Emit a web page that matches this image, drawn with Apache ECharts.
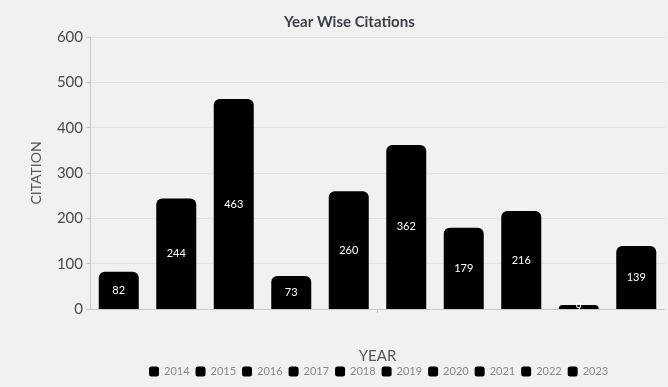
<!DOCTYPE html>
<html>
<head>
<meta charset="utf-8">
<script src="https://cdn.jsdelivr.net/npm/echarts@6/dist/echarts.min.js"></script>
<style>
  html, body { margin: 0; padding: 0; background: #f1f1f1; }
  #chart { width: 668px; height: 387px; }
</style>
</head>
<body>
<div id="chart"></div>
<script>
// 年份和引用次数
var years = ['2014', '2015', '2016', '2017', '2018', '2019', '2020', '2021', '2022', '2023'];
var citations = [82, 244, 463, 73, 260, 362, 179, 216, 9, 139];
var yTicks = [0, 100, 200, 300, 400, 500, 600];

var chart = echarts.init(document.getElementById('chart'));

var series = years.map(function (y, i) {
    return {
        name: y,
        type: 'bar',
        data: [citations[i]],
        barWidth: 40,
        barGap: '43.75%',
        barCategoryGap: '3%',
        itemStyle: { color: '#000', borderRadius: [6, 6, 0, 0] },
        label: {
            show: true,
            position: 'inside',
            color: '#fff',
            fontSize: 11,
            fontFamily: 'Lato'
        }
    };
});

chart.setOption({
    backgroundColor: '#f1f1f1',
    textStyle: { fontFamily: 'Lato' },
    title: {
        text: 'Year Wise Citations',
        left: 279,
        top: 10,
        textStyle: { fontSize: 15, fontWeight: 'bold', color: '#3a3f4a', fontFamily: 'Lato' }
    },
    legend: {
        data: years,
        left: 144,
        top: 361,
        icon: 'roundRect',
        itemWidth: 10,
        itemHeight: 10,
        itemGap: 6,
        textStyle: { color: '#888', fontSize: 11, fontFamily: 'Lato' }
    },
    grid: { left: 90, right: 3, top: 37, bottom: 78 },
    xAxis: {
        type: 'category',
        data: [''],
        name: 'YEAR',
        nameLocation: 'middle',
        nameGap: 40,
        nameTextStyle: { fontSize: 15, color: '#555', fontFamily: 'Lato' },
        axisLine: { lineStyle: { color: '#c8c8c8' } },
        axisTick: { show: true, alignWithLabel: true, length: 4, lineStyle: { color: '#c8c8c8' } },
        axisLabel: { show: false }
    },
    yAxis: {
        type: 'value',
        min: yTicks[0],
        max: yTicks[yTicks.length - 1],
        interval: 100,
        name: 'CITATION',
        nameLocation: 'middle',
        nameGap: 47,
        nameTextStyle: { fontSize: 14, color: '#555', fontFamily: 'Lato' },
        axisLine: { show: true, lineStyle: { color: '#c8c8c8' } },
        axisTick: { show: true, length: 4, lineStyle: { color: '#c8c8c8' } },
        axisLabel: { fontSize: 15, color: '#4a4a4a', fontFamily: 'Lato', margin: 7 },
        splitLine: { lineStyle: { color: '#e0e0e0' } }
    },
    series: series
});
</script>
</body>
</html>
